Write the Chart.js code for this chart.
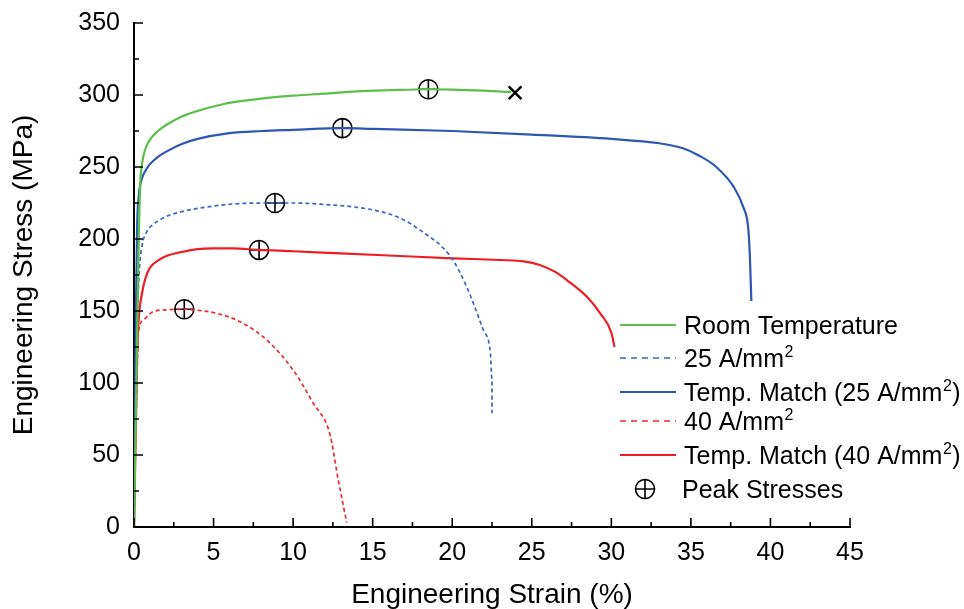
<!DOCTYPE html>
<html>
<head>
<meta charset="utf-8">
<script src="https://cdn.jsdelivr.net/npm/chart.js@4.4.1/dist/chart.umd.min.js"></script>
<style>
html,body{margin:0;padding:0;background:#fff;}
#wrap{width:964px;height:609px;position:relative;}
</style>
</head>
<body>
<div id="wrap"><canvas id="c" width="964" height="609"></canvas></div>
<script>
// ---- Data (strain %, stress MPa) ----
const roomStrain = [0,0.15,0.3,0.4,0.5,0.7,1.0,1.5,2,3,4,5,6,8,10,12,14,16,18.5,20,22,23.7];
const roomStress = [0,100,200,240,252,262,269,275,279,285,289,292,294.5,297.5,299.5,301,302.5,303.3,304,303.8,303,302];

const a25Strain = [0,0.1,0.2,0.35,0.5,0.8,1.2,2,3,4.15,6.2,8.86,10,12,14,15.5,16.7,18,19.9,20.9,21.95,22.4,22.5,22.5];
const a25Stress = [0,80,140,180,195,205,210,215.5,219,221.5,224.3,225,225,224,222,219,214.6,206,187.7,167,136.8,120.6,102,79];

const tm25Strain = [0,0.12,0.2,0.3,0.5,0.7,1,1.5,2,3,4,6,8,10,13.1,15,20,25,30,33,34.5,35.5,36.6,37.7,38.3,38.6,38.7,38.8];
const tm25Stress = [0,150,210,230,242,247,252,257,260.5,266,269.5,273.5,275,275.8,277,276.5,275,272.5,269.5,266.5,263,258,250,236,222,208,190,157];

const a40Strain = [0,0.1,0.2,0.27,0.59,1.2,2,3.1,4,5.2,6.66,8.34,10,11.27,12.3,12.84,13.37];
const a40Stress = [0,60,110,134,143.7,149.5,150.8,151.2,150.5,148.4,142.6,129.9,109,85.9,65,32.6,3];

const tm40Strain = [0,0.1,0.2,0.3,0.5,0.7,1,1.5,2,3,4,5,6.2,7.86,10,13,16.7,20,23,24.5,25.5,26.5,27.2,28.45,29.3,30,30.2];
const tm40Stress = [0,60,120,145,162,172,180,185,188,191,193,193.5,193.5,192.4,191.5,190,188.2,186.6,185.4,184.5,182,177,171.5,160,148.4,135,125];

const peakStrain = [18.5,13.1,8.86,7.86,3.16];
const peakStress = [304,277,225,192.4,151.2];

const fractureStrain = [23.95];
const fractureStress = [301.5];

const xTicks = [0,5,10,15,20,25,30,35,40,45];
const yTicks = [0,50,100,150,200,250,300,350];

const legendItems = [
  {label:'Room Temperature', sup:'', tail:'', color:'#5cbf4a', dash:[], kind:'line'},
  {label:'25 A/mm', sup:'2', tail:'', color:'#3a66c4', dash:[6,5], kind:'line'},
  {label:'Temp. Match (25 A/mm', sup:'2', tail:')', color:'#2d57b3', dash:[], kind:'line'},
  {label:'40 A/mm', sup:'2', tail:'', color:'#f0282e', dash:[6,5], kind:'line'},
  {label:'Temp. Match (40 A/mm', sup:'2', tail:')', color:'#ee1c24', dash:[], kind:'line'},
  {label:'Peak Stresses', sup:'', tail:'', color:'#000', dash:[], kind:'marker'}
];

const zip = (xs, ys) => xs.map((x, i) => ({x: x, y: ys[i]}));

const FONT = "'Liberation Sans', Arial, sans-serif";

const ticksPlugin = {
  id: 'innerTicks',
  afterDraw(chart) {
    const ctx = chart.ctx;
    const xs = chart.scales.x, ys = chart.scales.y;
    const ca = chart.chartArea;
    ctx.save();
    ctx.strokeStyle = '#000';
    ctx.lineWidth = 1.6;
    ctx.beginPath();
    for (let i = 0; i < xTicks.length; i++) {
      const px = xs.getPixelForValue(xTicks[i]);
      ctx.moveTo(px, ca.bottom); ctx.lineTo(px, ca.bottom - 9);
      if (i < xTicks.length - 1) {
        const pm = xs.getPixelForValue((xTicks[i] + xTicks[i+1]) / 2);
        ctx.moveTo(pm, ca.bottom); ctx.lineTo(pm, ca.bottom - 5);
      }
    }
    for (let i = 0; i < yTicks.length; i++) {
      const py = ys.getPixelForValue(yTicks[i]);
      ctx.moveTo(ca.left, py); ctx.lineTo(ca.left + 9, py);
      if (i < yTicks.length - 1) {
        const pm = ys.getPixelForValue((yTicks[i] + yTicks[i+1]) / 2);
        ctx.moveTo(ca.left, pm); ctx.lineTo(ca.left + 5, pm);
      }
    }
    ctx.stroke();

    // legend
    const rowY = [325, 358, 392, 421, 455, 489];
    const lx0 = 620, lx1 = 676, tx = 684;
    legendItems.forEach((it, i) => {
      const y = rowY[i];
      if (it.kind === 'line') {
        ctx.save();
        ctx.strokeStyle = it.color;
        ctx.lineWidth = it.dash.length ? 1.6 : 2;
        ctx.setLineDash(it.dash);
        ctx.beginPath(); ctx.moveTo(lx0, y); ctx.lineTo(lx1, y); ctx.stroke();
        ctx.restore();
      } else {
        ctx.save();
        ctx.strokeStyle = '#000'; ctx.lineWidth = 1.6;
        ctx.beginPath(); ctx.arc(645, y, 9.5, 0, Math.PI*2); ctx.stroke();
        ctx.beginPath(); ctx.moveTo(635.5, y); ctx.lineTo(654.5, y); ctx.moveTo(645, y-9.5); ctx.lineTo(645, y+9.5); ctx.stroke();
        ctx.restore();
      }
      ctx.fillStyle = '#000';
      ctx.textBaseline = 'alphabetic';
      ctx.textAlign = 'left';
      ctx.font = '25px ' + FONT;
      const base = y + 9;
      let x = (it.kind === 'marker') ? 682 : tx;
      ctx.fillText(it.label, x, base);
      x += ctx.measureText(it.label).width;
      if (it.sup) {
        ctx.font = '16px ' + FONT;
        ctx.fillText(it.sup, x + 0.5, base - 10);
        x += ctx.measureText(it.sup).width + 1;
        ctx.font = '25px ' + FONT;
      }
      if (it.tail) ctx.fillText(it.tail, x, base);
    });
    ctx.restore();
  }
};

new Chart(document.getElementById('c'), {
  type: 'scatter',
  data: {
    datasets: [
      {label:'Room Temperature', data: zip(roomStrain, roomStress), showLine:true, borderColor:'#5cbf4a', borderWidth:2.2, pointRadius:0, cubicInterpolationMode:'monotone'},
      {label:'25 A/mm2', data: zip(a25Strain, a25Stress), showLine:true, borderColor:'#3a66c4', borderWidth:1.7, borderDash:[4,3], pointRadius:0, cubicInterpolationMode:'monotone'},
      {label:'Temp. Match (25 A/mm2)', data: zip(tm25Strain, tm25Stress), showLine:true, borderColor:'#2d57b3', borderWidth:2.2, pointRadius:0, cubicInterpolationMode:'monotone'},
      {label:'40 A/mm2', data: zip(a40Strain, a40Stress), showLine:true, borderColor:'#f0282e', borderWidth:1.7, borderDash:[4,3], pointRadius:0, cubicInterpolationMode:'monotone'},
      {label:'Temp. Match (40 A/mm2)', data: zip(tm40Strain, tm40Stress), showLine:true, borderColor:'#ee1c24', borderWidth:2.2, pointRadius:0, cubicInterpolationMode:'monotone'},
      {label:'Peak Stresses', data: zip(peakStrain, peakStress), showLine:false, pointStyle:'circle', pointRadius:9.5, borderColor:'#000', backgroundColor:'rgba(0,0,0,0)', pointBackgroundColor:'rgba(0,0,0,0)', borderWidth:1.6},
      {label:'Peak Stresses (cross)', data: zip(peakStrain, peakStress), showLine:false, pointStyle:'cross', pointRadius:9.5, borderColor:'#000', borderWidth:1.6},
      {label:'Fracture', data: zip(fractureStrain, fractureStress), showLine:false, pointStyle:'crossRot', pointRadius:9, borderColor:'#000', borderWidth:2.5}
    ]
  },
  options: {
    responsive: false,
    animation: false,
    layout: {padding: {top: 23, right: 114, left: 0, bottom: 0}},
    plugins: {legend: {display:false}, tooltip: {enabled:false}},
    scales: {
      x: {
        type: 'linear', min: 0, max: 45,
        afterFit(s) { s.height = 82; },
        afterBuildTicks(s) { s.ticks = xTicks.map(v => ({value: v})); },
        grid: {display: false},
        border: {display: true, color: '#000', width: 2},
        ticks: {color:'#000', padding: 3, font: {family: FONT, size: 25}},
        title: {display: true, text: 'Engineering Strain (%)', color:'#000', font: {family: FONT, size: 28, lineHeight: 1.0}, padding: {top: 0, bottom: 0}}
      },
      y: {
        type: 'linear', min: 0, max: 350,
        afterFit(s) { s.width = 134; },
        afterBuildTicks(s) { s.ticks = yTicks.map(v => ({value: v})); },
        grid: {display: false},
        border: {display: true, color: '#000', width: 2},
        ticks: {color:'#000', padding: 6, font: {family: FONT, size: 25}},
        title: {display: true, text: 'Engineering Stress (MPa)', color:'#000', font: {family: FONT, size: 28, lineHeight: 1.0}, padding: {top: 10, bottom: 0}}
      }
    }
  },
  plugins: [ticksPlugin]
});
</script>
</body>
</html>
